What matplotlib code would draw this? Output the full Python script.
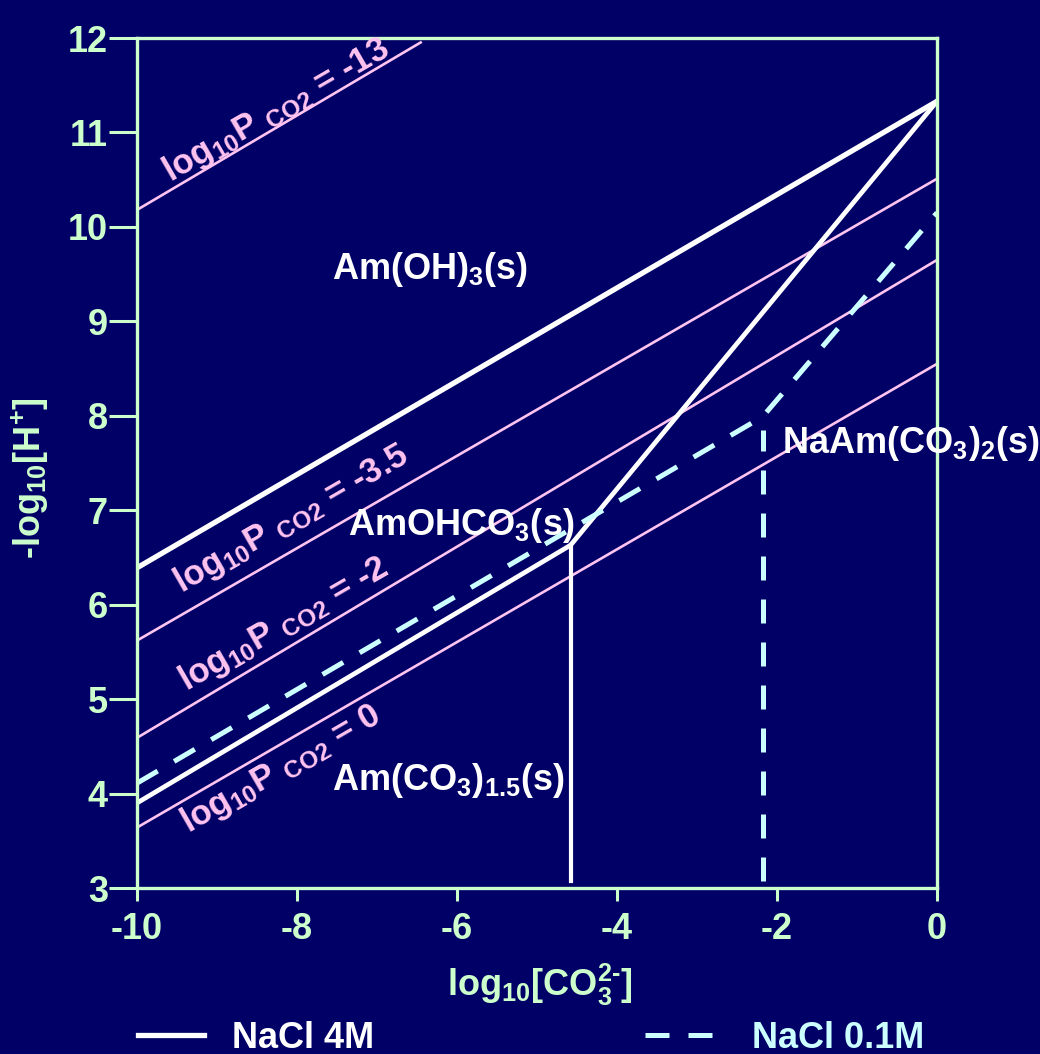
import matplotlib
matplotlib.use("Agg")
import matplotlib.pyplot as plt

# colours taken from the slide
bg = '#000066'
green = '#ccffcc'
pink = '#ffc4f0'
cyan = '#ccffff'

plt.rcParams['font.family'] = ['Liberation Sans', 'DejaVu Sans']
plt.rcParams['font.weight'] = 'bold'
plt.rcParams['mathtext.fontset'] = 'custom'
plt.rcParams['mathtext.rm'] = 'Liberation Sans:bold'
plt.rcParams['mathtext.it'] = 'Liberation Sans:bold'
plt.rcParams['mathtext.bf'] = 'Liberation Sans:bold'
plt.rcParams['axes.unicode_minus'] = False

# log10 P(CO2) isobars
pco2_labels = ['-13', '-3.5', '-2', '0']
pco2_x = [[-10, -6.44], [-10, 0], [-10, 0], [-10, 0]]
pco2_y = [[10.18, 11.96], [5.62, 10.51], [4.59, 9.65], [3.64, 8.55]]
pco2_label_x = [-9.58, -9.45, -9.38, -9.36]
pco2_label_y = [10.47, 6.12, 5.08, 3.58]

# NaCl 4M boundaries (solid)
nacl4_upper_x = [-10, 0]
nacl4_upper_y = [6.39, 11.33]
nacl4_lower_x = [-10, -4.58, 0]
nacl4_lower_y = [3.90, 6.63, 11.33]
nacl4_vert_x = [-4.58, -4.58]
nacl4_vert_y = [3.07, 6.63]

# NaCl 0.1M boundaries (dashed)
nacl01_x = [-10, -2.18, 0]
nacl01_y = [4.11, 7.99, 10.15]
nacl01_vert_x = [-2.18, -2.18]
nacl01_vert_y = [3.07, 7.85]

# phase labels
phase_names = [r'Am(OH)$_3$(s)', r'AmOHCO$_3$(s)', r'Am(CO$_3$)$_{1.5}$(s)', r'NaAm(CO$_3$)$_2$(s)']
phase_x = [-7.56, -7.36, -7.56, -1.94]
phase_y = [9.45, 6.74, 4.04, 7.61]

fig = plt.figure(figsize=(10.4, 10.54), dpi=100, facecolor=bg)
ax = fig.add_axes([137 / 1040, 166 / 1054, 800 / 1040, 850 / 1054])
ax.set_facecolor(bg)

for xs, ys in zip(pco2_x, pco2_y):
    ax.plot(xs, ys, color=pink, lw=1.9, solid_capstyle='butt')

ax.plot(nacl4_upper_x, nacl4_upper_y, color='white', lw=3.8)
ax.plot(nacl4_lower_x, nacl4_lower_y, color='white', lw=3.4)
ax.plot(nacl4_vert_x, nacl4_vert_y, color='white', lw=3.0)
ax.plot(nacl01_x, nacl01_y, color=cyan, lw=3.6, ls=(0, (4.8, 3.8)))
ax.plot(nacl01_vert_x, nacl01_vert_y, color=cyan, lw=3.6, ls=(0, (4.8, 3.8)))

# legend handles
solid_h, = ax.plot([], [], color='white', lw=3.8)
dash_h, = ax.plot([], [], color=cyan, lw=3.6, ls=(0, (4.8, 3.8)))

for lab, lx, ly in zip(pco2_labels, pco2_label_x, pco2_label_y):
    ax.text(lx, ly, r'log$_{10}$P $_{\mathrm{CO2}}$ = ' + lab, color=pink,
            fontsize=25, rotation=30, rotation_mode='anchor',
            ha='left', va='baseline')

for name, px, py in zip(phase_names, phase_x, phase_y):
    ax.text(px, py, name, color='white', fontsize=26, ha='left',
            va='baseline', clip_on=False)

ax.set_xlim(-10, 0)
ax.set_ylim(3, 12)
ax.set_xticks(range(-10, 1, 2))
ax.set_yticks(range(3, 13))
ax.tick_params(axis='y', length=20, width=2.2, color=green, pad=1,
               labelsize=26, labelcolor=green)
ax.tick_params(axis='x', length=9, width=2.2, color=green, pad=8,
               labelsize=26, labelcolor=green)
for sp in ax.spines.values():
    sp.set_color(green)
    sp.set_linewidth(2.4)

fig.text(30 / 1040, 1 - 478 / 1054, r'-log$_{10}$[H$^{+}$]', color=green,
         fontsize=26, rotation=90, ha='center', va='center')
fig.text(540 / 1040, 1 - 985 / 1054, 'log$_{10}$[CO$_3^{2\u2010}$]',
         color=green, fontsize=26, ha='center', va='center')

leg1 = ax.legend([solid_h], ['NaCl 4M'], loc='center left',
                 bbox_to_anchor=(138 / 1040, 1 - 1038 / 1054),
                 bbox_transform=fig.transFigure, frameon=False,
                 fontsize=26, handlelength=1.83, handletextpad=0.78,
                 borderpad=0, borderaxespad=0, labelcolor='linecolor')
ax.add_artist(leg1)
ax.legend([dash_h], ['NaCl 0.1M'], loc='center left',
          bbox_to_anchor=(645 / 1040, 1 - 1038 / 1054),
          bbox_transform=fig.transFigure, frameon=False,
          fontsize=26, handlelength=1.86, handletextpad=1.1,
          borderpad=0, borderaxespad=0, labelcolor='linecolor')

fig.savefig('out.png', dpi=100, facecolor=bg)
